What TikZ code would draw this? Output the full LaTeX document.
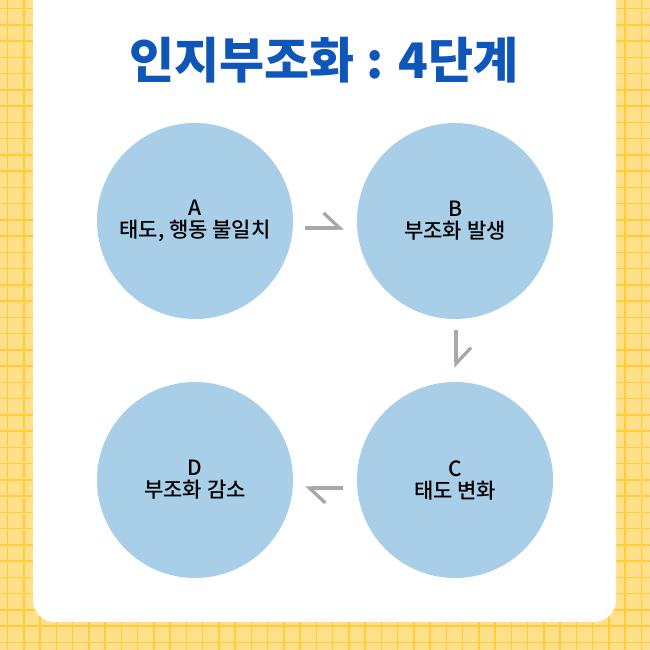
\documentclass[tikz,border=0pt]{standalone}
\usepackage{fontspec}
\setmainfont{Noto Sans CJK KR Medium}
\newfontfamily\titlefont{Noto Sans CJK KR Black}
\usetikzlibrary{arrows.meta}
\definecolor{gridbg}{HTML}{FFE08A}
\definecolor{gridln}{HTML}{FFCC3A}
\definecolor{stageblue}{HTML}{A9CFE8}
\definecolor{titleblue}{HTML}{0F56B9}
\definecolor{arrgray}{HTML}{A8A8A8}
\tikzset{
  circS/.style={ circle, fill=stageblue, minimum size=196pt, inner sep=0pt, align=center, font=\fontsize{21}{26}\selectfont }
}
\tikzset{
  harp/.style={ draw=arrgray, line width=3.3pt, -{Straight Barb[left, length=16pt, width=30pt]} }
}
\begin{document}
\begin{tikzpicture}[x=1pt, y=1pt]
      \useasboundingbox (0,0) rectangle (650,650);
      \fill[gridbg] (0,0) rectangle (650,650);
      \foreach \k in {0,...,39} {
        \draw[gridln, line width=1.5pt] (7.5+16.25*\k, 0) -- (7.5+16.25*\k, 650);
        \draw[gridln, line width=1.5pt] (0, 7.5+16.25*\k) -- (650, 7.5+16.25*\k);
      }
      \fill[white, rounded corners=22pt] (33,28) rectangle (616,690);

      \node[text=titleblue, font=\titlefont\fontsize{49}{53}\selectfont] (title) at (324, 590) {인지부조화 : 4단계};

      \node[circS] (pa) at (195, 429) {A\\[-4pt]태도, 행동 불일치};
      \node[circS] (pb) at (455, 429) {B\\[-4pt]부조화 발생};
      \node[circS] (pc) at (455, 170) {C\\[-4pt]태도 변화};
      \node[circS] (pd) at (195, 170) {D\\[-4pt]부조화 감소};

      \draw[harp, shorten <=12pt, shorten >=13pt] ([yshift=-7pt]pa.east) -- ([yshift=-7pt]pb.west);
      \draw[harp, shorten <=11pt, shorten >=14pt] ([xshift=1pt]pb.south) -- ([xshift=1pt]pc.north);
      \draw[harp, shorten <=14pt, shorten >=12pt] ([yshift=-8pt]pc.west) -- ([yshift=-8pt]pd.east);
    \end{tikzpicture}
\end{document}
